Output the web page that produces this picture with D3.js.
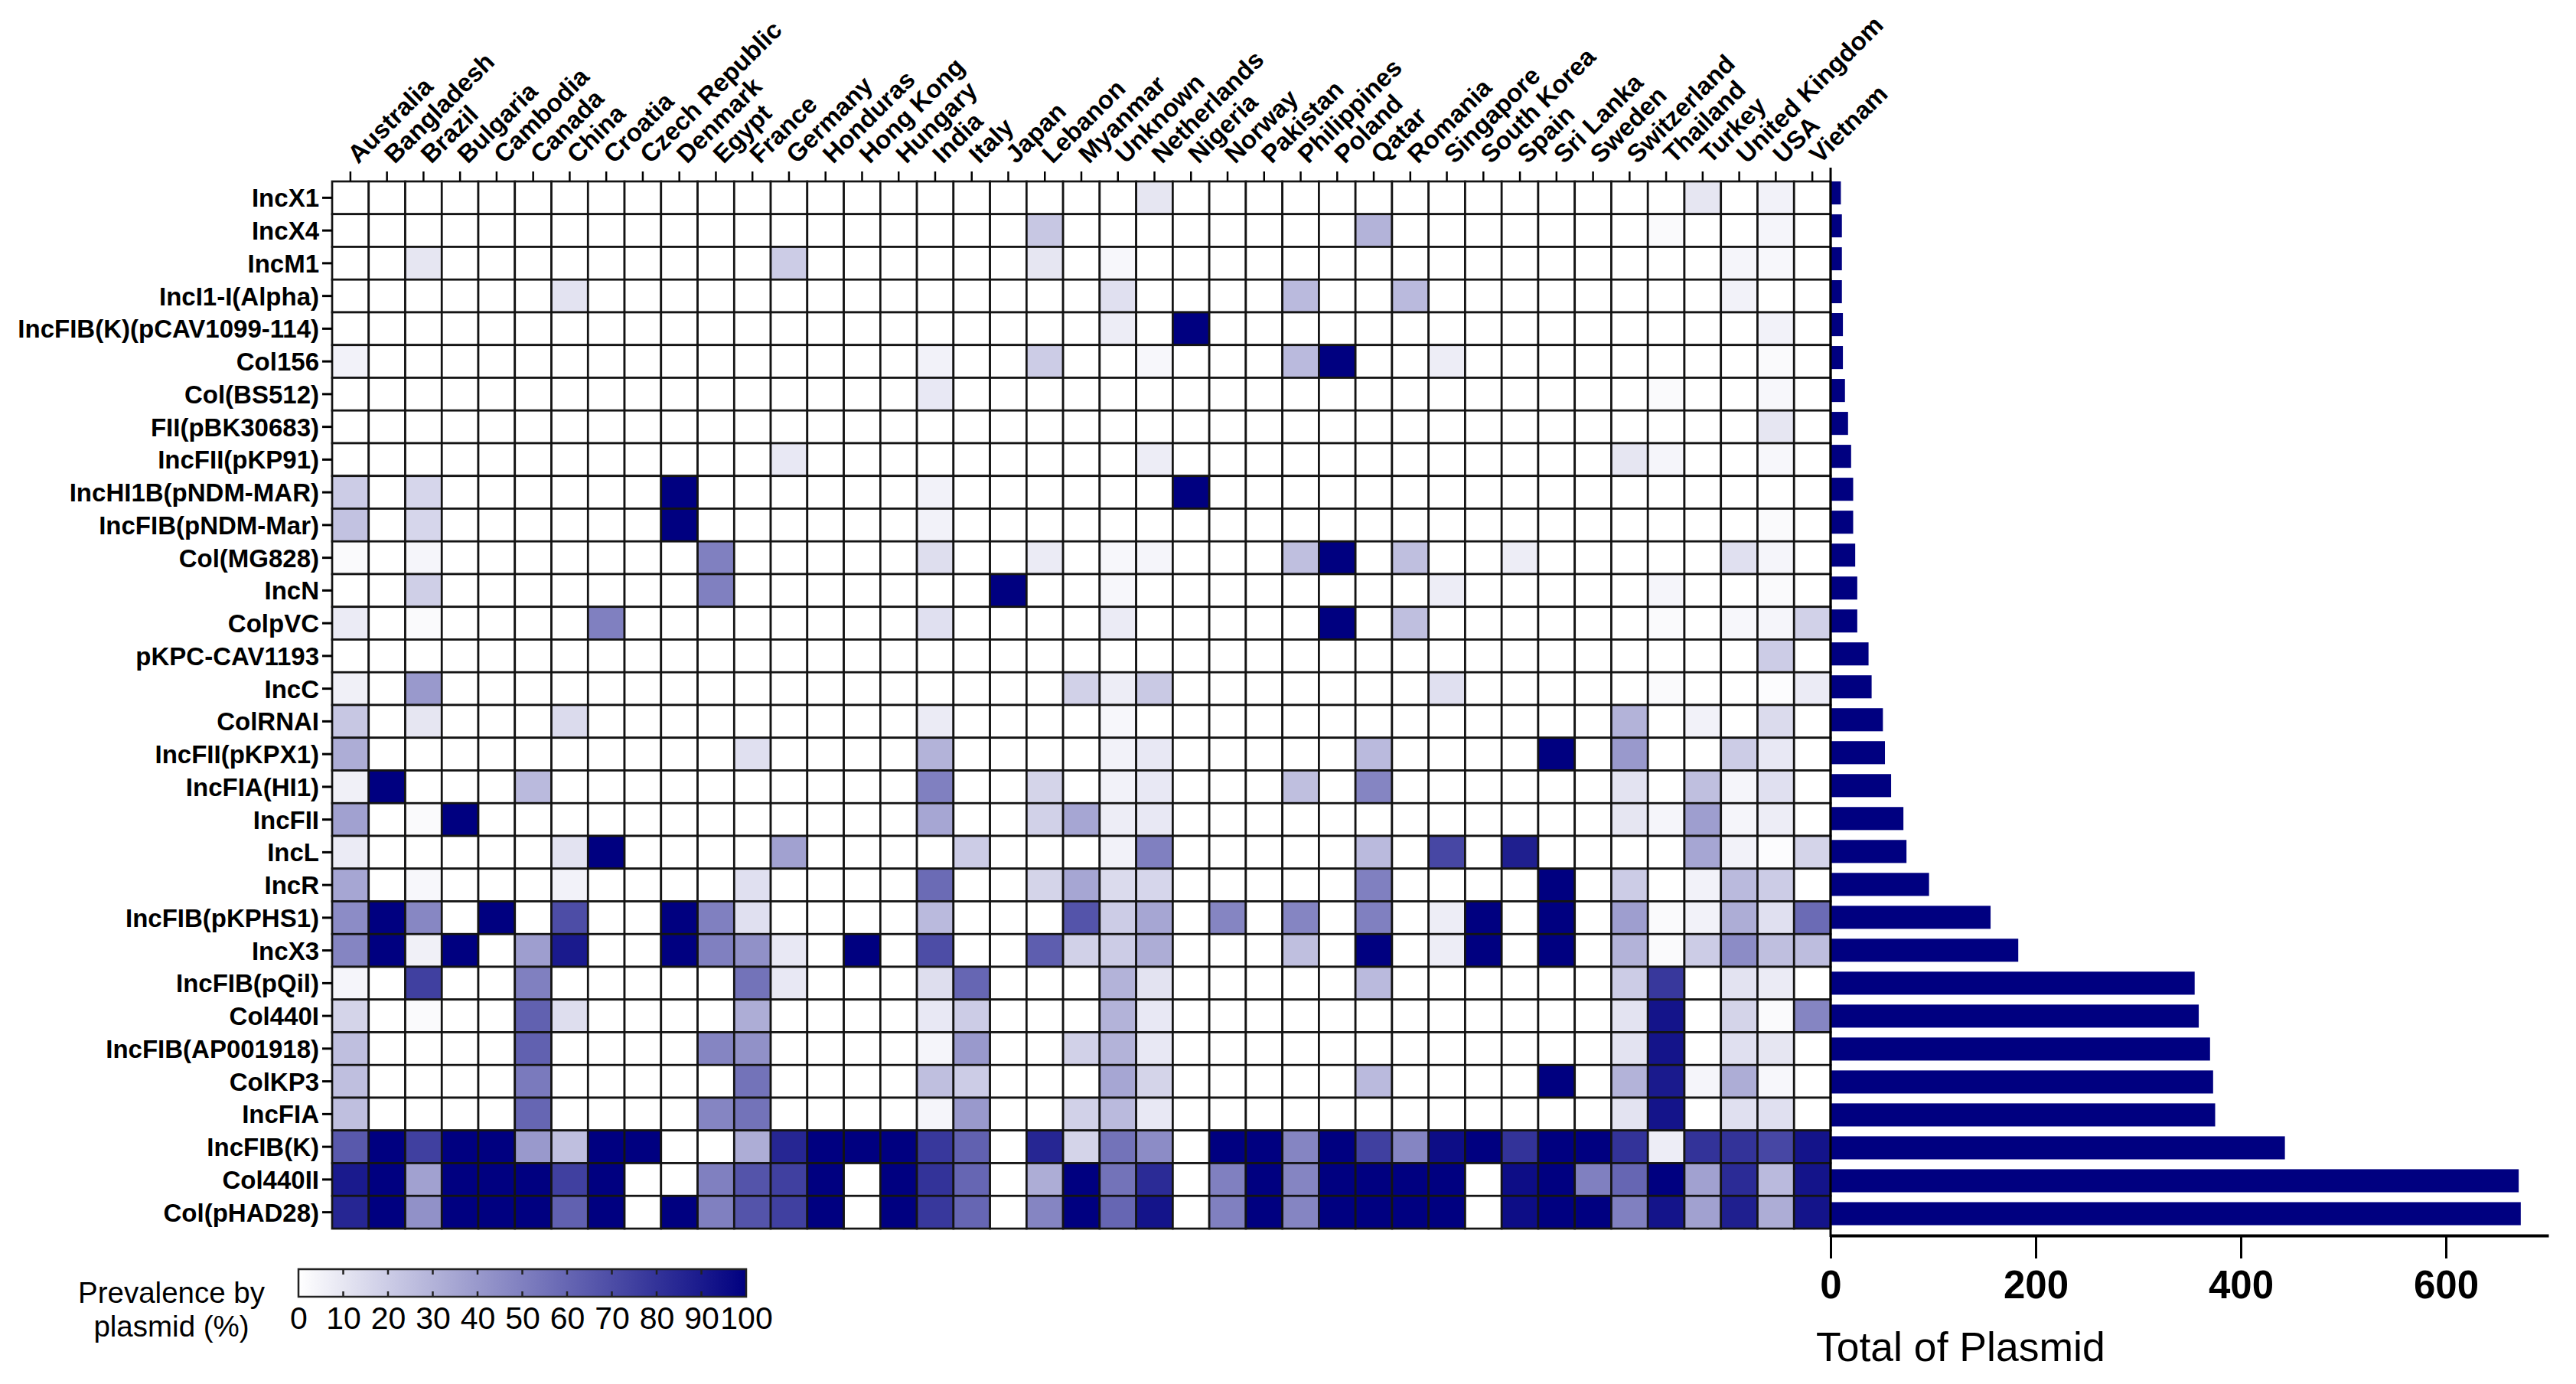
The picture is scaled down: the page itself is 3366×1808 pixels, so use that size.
<!DOCTYPE html>
<html>
<head>
<meta charset="utf-8">
<script src="https://d3js.org/d3.v7.min.js"></script>
<style>
  html, body { margin: 0; background: #fff; }
  svg { display: block; }
  text { font-family: "Liberation Sans", Arial, sans-serif; fill: #000; }
  .cell { stroke: #141414; stroke-width: 2.7; }
  .axis line, .axis path { stroke: #000; }
</style>
</head>
<body>
<svg id="chart" width="3366" height="1808"></svg>
<script>
var countries = ["Australia","Bangladesh","Brazil","Bulgaria","Cambodia","Canada","China","Croatia","Czech Republic","Denmark","Egypt","France","Germany","Honduras","Hong Kong","Hungary","India","Italy","Japan","Lebanon","Myanmar","Unknown","Netherlands","Nigeria","Norway","Pakistan","Philippines","Poland","Qatar","Romania","Singapore","South Korea","Spain","Sri Lanka","Sweden","Switzerland","Thailand","Turkey","United Kingdom","USA","Vietnam"];

var plasmids = ["IncX1","IncX4","IncM1","IncI1-I(Alpha)","IncFIB(K)(pCAV1099-114)","Col156","Col(BS512)","FII(pBK30683)","IncFII(pKP91)","IncHI1B(pNDM-MAR)","IncFIB(pNDM-Mar)","Col(MG828)","IncN","ColpVC","pKPC-CAV1193","IncC","ColRNAI","IncFII(pKPX1)","IncFIA(HI1)","IncFII","IncL","IncR","IncFIB(pKPHS1)","IncX3","IncFIB(pQil)","Col440I","IncFIB(AP001918)","ColKP3","IncFIA","IncFIB(K)","Col440II","Col(pHAD28)"];

var totals = [10,11,11,11,12,12,14,17,20,22,22,24,26,26,37,40,51,53,59,71,74,96,156,183,355,359,370,373,375,443,671,673];

// prevalence by plasmid (%), one row per plasmid, one value per country
var prevalence = [
  [0,0,0,0,0,0,0,0,0,0, 0,0,0,0,0,0,0,0,0,0, 0,0,10,0,0,0,0,0,0,0, 0,0,0,0,0,0,0,10,0,5, 0],
  [0,0,0,0,0,0,0,0,0,0, 0,0,0,0,0,0,0,0,0,22, 0,0,0,0,0,0,0,0,30,0, 0,0,0,0,0,0,2,0,0,4, 0],
  [0,0,10,0,0,0,0,0,0,0, 0,0,20,0,0,0,0,0,0,10, 0,3,0,0,0,0,0,0,0,0, 0,0,0,0,0,0,0,0,4,3, 0],
  [0,0,0,0,0,0,11,0,0,0, 0,0,0,0,0,0,0,0,0,0, 0,12,0,0,0,0,27,0,0,27, 0,0,0,0,0,0,0,0,5,0, 0],
  [0,0,0,0,0,0,0,0,0,0, 0,0,0,0,0,0,0,0,0,0, 0,7,0,100,0,0,0,0,0,0, 0,0,0,0,0,0,0,0,0,5, 0],
  [5,0,0,0,0,0,0,0,0,0, 0,0,0,0,0,0,5,0,0,20, 0,0,3,0,0,0,27,100,0,0, 7,0,0,0,0,0,0,0,0,2, 0],
  [0,0,0,0,0,0,0,0,0,0, 0,0,0,0,0,0,9,0,0,0, 0,0,0,0,0,0,0,0,0,0, 0,0,0,0,0,0,2,0,0,3, 0],
  [0,0,0,0,0,0,0,0,0,0, 0,0,0,0,0,0,0,0,0,0, 0,0,0,0,0,0,0,0,0,0, 0,0,0,0,0,0,0,0,0,10, 0],
  [0,0,0,0,0,0,0,0,0,0, 0,0,9,0,0,0,0,0,0,0, 0,0,7,0,0,0,0,0,0,0, 0,0,0,0,0,10,4,0,0,3, 0],
  [20,0,16,0,0,0,0,0,0,100, 0,0,0,0,0,0,5,0,0,0, 0,0,0,100,0,0,0,0,0,0, 0,0,0,0,0,0,0,0,0,0, 0],
  [24,0,16,0,0,0,0,0,0,100, 0,0,0,0,0,0,5,0,0,0, 0,0,0,0,0,0,0,0,0,0, 0,0,0,0,0,0,0,0,0,2, 0],
  [2,0,4,0,0,0,0,0,0,0, 50,0,0,0,0,0,13,0,0,8, 0,3,4,0,0,0,25,100,0,25, 0,0,7,0,0,0,0,0,12,4, 0],
  [0,0,19,0,0,0,0,0,0,0, 50,0,0,0,0,0,0,0,100,0, 0,3,0,0,0,0,0,0,0,0, 7,0,0,0,0,0,4,0,0,2, 0],
  [8,0,2,0,0,0,0,50,0,0, 0,0,0,0,0,0,12,0,0,0, 0,8,0,0,0,0,0,100,0,25, 0,0,0,0,0,0,2,0,3,4, 18],
  [0,0,0,0,0,0,0,0,0,0, 0,0,0,0,0,0,0,0,0,0, 0,0,0,0,0,0,0,0,0,0, 0,0,0,0,0,0,0,0,0,20, 0],
  [6,0,40,0,0,0,0,0,0,0, 0,0,0,0,0,0,0,0,0,0, 18,7,21,0,0,0,0,0,0,0, 12,0,0,0,0,0,2,0,0,1, 8],
  [22,0,10,0,0,0,14,0,0,0, 0,0,0,0,0,0,8,0,0,0, 0,3,0,0,0,0,0,0,0,0, 0,0,0,0,0,30,0,5,0,14, 0],
  [32,0,0,0,0,0,0,0,0,0, 0,12,0,0,0,0,30,0,0,0, 0,5,9,0,0,0,0,0,27,0, 0,0,0,100,0,40,0,0,20,9, 0],
  [6,100,0,0,0,27,0,0,0,0, 0,0,0,0,0,0,50,0,0,17, 0,5,9,0,0,0,25,0,48,0, 0,0,0,0,0,11,0,25,4,12, 0],
  [37,0,2,100,0,0,0,0,0,0, 0,0,0,0,0,0,35,0,0,18, 35,7,9,0,0,0,0,0,0,0, 0,0,0,0,0,10,4,38,4,7, 0],
  [8,0,0,0,0,0,11,100,0,0, 0,0,37,0,0,0,0,20,0,0, 0,5,50,0,0,0,0,0,27,0, 72,0,88,0,0,0,0,35,5,1, 17],
  [35,0,3,0,0,0,5,0,0,0, 0,12,0,0,0,0,58,0,0,17, 35,14,16,0,0,0,0,0,50,0, 0,0,0,100,0,20,0,5,27,20, 0],
  [45,100,47,0,100,0,70,0,0,100, 50,12,0,0,0,0,27,0,0,0, 67,20,35,0,48,0,48,0,50,0, 7,100,0,100,0,38,2,5,32,12, 58],
  [48,100,6,100,0,38,90,0,0,100, 50,43,9,0,100,0,70,0,0,63, 18,20,32,0,0,0,25,0,100,0, 7,100,0,100,0,30,2,20,45,25, 26],
  [4,0,75,0,0,50,0,0,0,0, 0,55,9,0,0,0,13,60,0,0, 0,30,11,0,0,0,0,0,27,0, 0,0,0,0,0,20,78,0,11,8, 0],
  [17,0,2,0,0,62,13,0,0,0, 0,32,0,0,0,0,9,20,0,0, 0,30,9,0,0,0,0,0,0,0, 0,0,0,0,0,11,92,0,17,2, 48],
  [25,0,0,0,0,62,0,0,0,0, 48,43,0,0,0,0,4,40,0,0, 18,30,9,0,0,0,0,0,0,0, 0,0,0,0,0,11,92,0,12,10, 0],
  [25,0,0,0,0,52,0,0,0,0, 0,55,0,0,0,0,25,20,0,0, 0,35,17,0,0,0,0,0,27,0, 0,0,0,100,0,30,90,4,32,3, 0],
  [25,0,0,0,0,60,0,0,0,0, 48,55,0,0,0,0,4,40,0,0, 18,27,9,0,0,0,0,0,0,0, 0,0,0,0,0,11,92,0,12,12, 0],
  [65,100,75,100,100,40,25,100,100,0, 0,32,85,100,100,100,78,62,0,85, 17,55,45,0,100,100,48,100,75,48, 95,100,80,100,100,80,7,80,80,72, 92],
  [90,100,37,100,100,100,75,100,0,0, 50,67,75,100,0,100,80,60,0,32, 100,55,83,0,50,100,48,100,100,100, 100,0,95,100,50,60,100,37,83,27, 92],
  [85,100,43,100,100,100,62,100,0,100, 50,67,75,100,0,100,78,60,0,48, 100,60,92,0,50,100,48,100,100,100, 100,0,95,100,100,50,92,37,88,32, 92]
];

var legendTicks = [0,10,20,30,40,50,60,70,80,90,100];
var totalTicks = [0,200,400,600];

var gridLeft = 434, gridRight = 2392, gridTop = 237, gridBottom = 1605;
var navy = "#000080";

var svg = d3.select("#chart");

var x = d3.scaleBand().domain(countries).range([gridLeft, gridRight]);
var y = d3.scaleBand().domain(plasmids).range([gridTop, gridBottom]);
var color = d3.scaleLinear().domain([0,100]).range(["#ffffff", navy]);

// heat map
var rows = svg.append("g").selectAll("g")
    .data(prevalence)
    .enter().append("g")
    .attr("transform", function(d,i) { return "translate(0," + y(plasmids[i]) + ")"; });

rows.selectAll("rect")
    .data(function(d) { return d; })
    .enter().append("rect")
    .attr("class", "cell")
    .attr("x", function(d,i) { return x(countries[i]); })
    .attr("width", x.bandwidth())
    .attr("height", y.bandwidth())
    .attr("fill", function(d) { return color(d); });

// plasmid names
var yAxis = svg.append("g")
    .attr("class", "axis")
    .attr("transform", "translate(" + gridLeft + ",0)")
    .call(d3.axisLeft(y).tickSize(13).tickPadding(4));
yAxis.select(".domain").remove();
yAxis.selectAll("line").style("stroke-width", 3);
yAxis.selectAll("text")
    .attr("dy", "0.36em")
    .style("font-size", "33px")
    .style("font-weight", "bold");

// country names
var xAxis = svg.append("g")
    .attr("class", "axis")
    .attr("transform", "translate(0," + gridTop + ")")
    .call(d3.axisTop(x).tickSize(13));
xAxis.select(".domain").remove();
xAxis.selectAll("line").style("stroke-width", 2.5);
xAxis.selectAll("text")
    .attr("text-anchor", "start")
    .attr("transform", "translate(10,-22) rotate(-45)")
    .attr("x", 0).attr("y", 0).attr("dy", 0)
    .style("font-size", "33px")
    .style("font-weight", "bold");

// totals
var xTotal = d3.scaleLinear().domain([0,700]).range([gridRight, 3330]);
var yTotal = d3.scaleBand().domain(plasmids).range([230.5, 1607])
    .paddingInner(0.3).paddingOuter(0.15);

svg.append("g").selectAll("rect")
    .data(totals)
    .enter().append("rect")
    .attr("x", xTotal(0))
    .attr("y", function(d,i) { return yTotal(plasmids[i]); })
    .attr("width", function(d) { return xTotal(d) - xTotal(0); })
    .attr("height", yTotal.bandwidth())
    .attr("fill", navy);

var totalAxis = svg.append("g")
    .attr("class", "axis")
    .attr("transform", "translate(0,1614)")
    .call(d3.axisBottom(xTotal).tickValues(totalTicks).tickSize(30).tickSizeOuter(0).tickPadding(16));
totalAxis.select(".domain").style("stroke-width", 4);
totalAxis.selectAll("line").style("stroke-width", 3);
totalAxis.selectAll("text")
    .style("font-size", "51px")
    .style("font-weight", "bold");

svg.append("line")
    .attr("x1", gridRight).attr("x2", gridRight)
    .attr("y1", 219).attr("y2", 1616)
    .attr("stroke", "#000").attr("stroke-width", 3);

svg.append("text")
    .attr("x", 2373).attr("y", 1778)
    .style("font-size", "53.5px")
    .text("Total of Plasmid");

// colour legend
var legendLeft = 390, legendRight = 975, legendTop = 1658, legendHeight = 36;
var xLegend = d3.scaleLinear().domain([0,100]).range([legendLeft, legendRight]);

var gradient = svg.append("defs").append("linearGradient").attr("id", "prevalenceRamp");
gradient.selectAll("stop")
    .data(legendTicks)
    .enter().append("stop")
    .attr("offset", function(d) { return d + "%"; })
    .attr("stop-color", function(d) { return color(d); });

svg.append("rect")
    .attr("x", legendLeft).attr("y", legendTop)
    .attr("width", legendRight - legendLeft).attr("height", legendHeight)
    .attr("fill", "url(#prevalenceRamp)")
    .attr("stroke", "#222").attr("stroke-width", 2.5);

var legendAxis = svg.append("g")
    .attr("class", "axis")
    .attr("transform", "translate(0," + (legendTop + legendHeight) + ")")
    .call(d3.axisBottom(xLegend).tickValues(legendTicks).tickSize(0).tickPadding(13));
legendAxis.select(".domain").remove();
legendAxis.selectAll("text").style("font-size", "41px");

// short inner ticks on both edges of the colour bar
[[legendTop, legendTop + 7], [legendTop + legendHeight - 7, legendTop + legendHeight]].forEach(function(span) {
  svg.append("g").selectAll("line")
      .data(legendTicks.slice(1, -1))
      .enter().append("line")
      .attr("x1", xLegend).attr("x2", xLegend)
      .attr("y1", span[0]).attr("y2", span[1])
      .attr("stroke", "#222").attr("stroke-width", 2.5);
});

svg.append("text")
    .attr("x", 224).attr("y", 1702)
    .attr("text-anchor", "middle")
    .style("font-size", "38.5px")
    .text("Prevalence by");
svg.append("text")
    .attr("x", 224).attr("y", 1746)
    .attr("text-anchor", "middle")
    .style("font-size", "38.5px")
    .text("plasmid (%)");
</script>
</body>
</html>
